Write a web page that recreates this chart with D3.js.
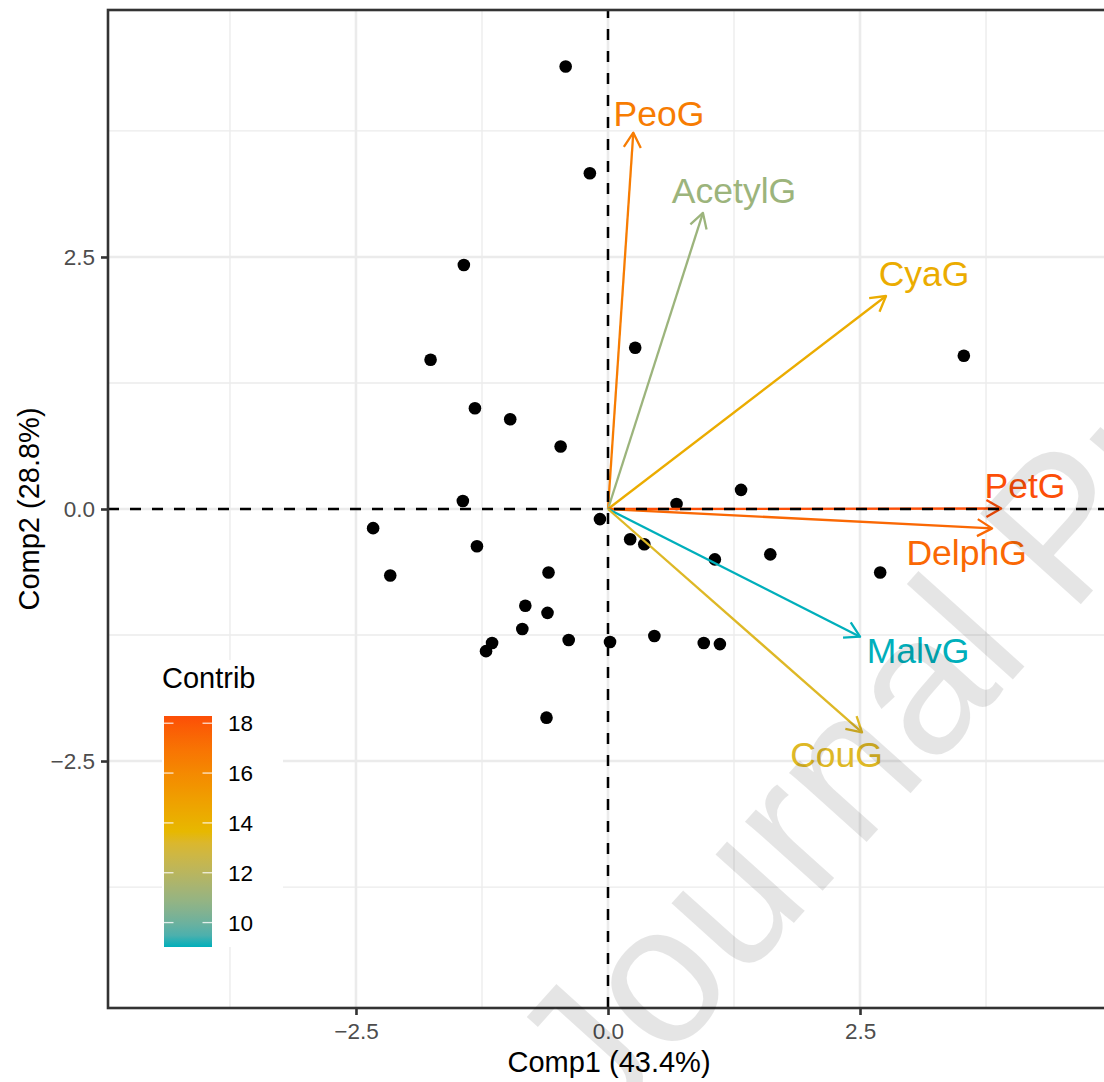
<!DOCTYPE html>
<html><head><meta charset="utf-8">
<script src="https://cdn.jsdelivr.net/npm/d3@7"></script>
<style>body{margin:0;background:#fff}svg{display:block}text{font-family:"Liberation Sans",Arial,Helvetica,sans-serif}</style>
</head><body><svg id="c" width="1104" height="1082"></svg>
<script>
// Individuals (PCA scores)
const indX=[-0.42,-0.18,-1.43,-1.76,0.27,-1.32,-0.97,-0.47,-1.44,-2.33,-2.16,-1.30,-0.08,0.22,0.36,0.68,1.32,1.06,1.61,2.70,3.53,-0.59,-0.82,-0.60,-0.85,-1.15,-1.21,-0.39,0.02,0.46,0.95,1.11,-0.61];
const indY=[4.39,3.33,2.42,1.48,1.60,1.00,0.89,0.62,0.08,-0.19,-0.66,-0.37,-0.10,-0.30,-0.35,0.05,0.19,-0.50,-0.45,-0.63,1.52,-0.63,-0.96,-1.03,-1.19,-1.33,-1.41,-1.30,-1.32,-1.26,-1.33,-1.34,-2.07];
// Variables
const varNames=["PeoG","AcetylG","CyaG","PetG","DelphG","MalvG","CouG"];
const varX=[0.251,0.942,2.758,3.900,3.810,2.500,2.520];
const varY=[3.733,2.937,2.113,0.005,-0.192,-1.267,-2.215];
const varContrib=[16.6,11.1,14.3,18.29,17.4,9.02,13.3];
const labelX=[0.506,1.250,3.135,4.137,3.557,3.075,2.267];
const labelY=[3.929,3.165,2.341,0.233,-0.432,-1.399,-2.431];
const xTicks=[-2.5,0,2.5], yTicks=[-2.5,0,2.5];
const xMinor=[-3.75,-1.25,1.25,3.75], yMinor=[-3.75,-1.25,1.25,3.75];
const legendTicks=[10,12,14,16,18];
const gradCols=["#00AFBB","#E7B800","#FC4E07"];

const svg=d3.select("#c");
const L=108,R=1108,T=10,B=1008;
const x=d3.scaleLinear().domain([-4.96,4.96]).range([L,R]);
const y=d3.scaleLinear().domain([-4.95,4.95]).range([B,T]);
const cMin=d3.min(varContrib), cMax=d3.max(varContrib);
const col=d3.scaleLinear().domain([cMin,(cMin+cMax)/2,cMax]).range(gradCols).interpolate(d3.interpolateLab);

const defs=svg.append("defs");
defs.append("clipPath").attr("id","pc").append("rect").attr("x",L).attr("y",T).attr("width",R-L).attr("height",B-T);
const gp=svg.append("g").attr("clip-path","url(#pc)");
// grid
gp.selectAll(".gxm").data(xMinor).join("line").attr("x1",d=>x(d)).attr("x2",d=>x(d)).attr("y1",T).attr("y2",B).attr("stroke","#ebebeb").attr("stroke-width",1.3);
gp.selectAll(".gym").data(yMinor).join("line").attr("y1",d=>y(d)).attr("y2",d=>y(d)).attr("x1",L).attr("x2",R).attr("stroke","#ebebeb").attr("stroke-width",1.3);
gp.selectAll(".gx").data(xTicks).join("line").attr("x1",d=>x(d)).attr("x2",d=>x(d)).attr("y1",T).attr("y2",B).attr("stroke","#ebebeb").attr("stroke-width",2.6);
gp.selectAll(".gy").data(yTicks).join("line").attr("y1",d=>y(d)).attr("y2",d=>y(d)).attr("x1",L).attr("x2",R).attr("stroke","#ebebeb").attr("stroke-width",2.6);

// points
gp.selectAll("circle").data(indX.map((v,i)=>[v,indY[i]])).join("circle")
  .attr("cx",d=>x(d[0])).attr("cy",d=>y(d[1])).attr("r",6.3).attr("fill","#000");

// arrows
const ox=x(0), oy=y(0), HL=17, HA=Math.PI/6;
varNames.forEach((n,i)=>{
  const tx=x(varX[i]), ty=y(varY[i]), c=col(varContrib[i]);
  const a=Math.atan2(ty-oy,tx-ox);
  gp.append("line").attr("x1",ox).attr("y1",oy).attr("x2",tx).attr("y2",ty).attr("stroke",c).attr("stroke-width",2.3);
  const p1=[tx-HL*Math.cos(a-HA),ty-HL*Math.sin(a-HA)], p2=[tx-HL*Math.cos(a+HA),ty-HL*Math.sin(a+HA)];
  gp.append("path").attr("d",`M${p1[0]},${p1[1]}L${tx},${ty}L${p2[0]},${p2[1]}`).attr("fill","none").attr("stroke",c).attr("stroke-width",2.3).attr("stroke-linejoin","round");
  gp.append("text").attr("x",x(labelX[i])).attr("y",y(labelY[i])).attr("dy","0.358em").attr("text-anchor","middle")
    .attr("font-size",35.5).attr("fill",c).text(n);
});

// reference dashed lines
gp.append("line").attr("x1",L).attr("x2",R).attr("y1",y(0)).attr("y2",y(0)).attr("stroke","#000").attr("stroke-width",2.5).attr("stroke-dasharray","11,11");
gp.append("line").attr("x1",x(0)).attr("x2",x(0)).attr("y1",B).attr("y2",T).attr("stroke","#000").attr("stroke-width",2.5).attr("stroke-dasharray","11,11");

// panel border
svg.append("rect").attr("x",L).attr("y",T).attr("width",R-L).attr("height",B-T).attr("fill","none").attr("stroke","#333").attr("stroke-width",2.6);

// axes
const fmt=d=>d3.format(".1f")(d).replace("-","\u2212");
const xa=svg.append("g").attr("transform",`translate(0,${B})`).call(d3.axisBottom(x).tickValues(xTicks).tickFormat(fmt).tickSize(7).tickPadding(8));
const ya=svg.append("g").attr("transform",`translate(${L},0)`).call(d3.axisLeft(y).tickValues(yTicks).tickFormat(fmt).tickSize(7).tickPadding(6));
[xa,ya].forEach(g=>{g.select(".domain").remove();g.selectAll(".tick line").attr("stroke","#333").attr("stroke-width",2.6);
  g.selectAll(".tick text").attr("fill","#4d4d4d").attr("font-size",22.5).attr("font-family","Liberation Sans, Arial, sans-serif");});

svg.append("text").attr("x",609).attr("y",1072).attr("text-anchor","middle").attr("font-size",29).attr("fill","#000").text("Comp1 (43.4%)");
svg.append("text").attr("transform","translate(39,509) rotate(-90)").attr("text-anchor","middle").attr("font-size",29).attr("fill","#000").text("Comp2 (28.8%)");

// legend
const lg=d3.scaleLinear().domain([cMin,cMax]).range([947,716]);
svg.append("rect").attr("x",162).attr("y",660).attr("width",121).attr("height",287).attr("fill","#fff");
const grad=defs.append("linearGradient").attr("id","lgGrad").attr("x1",0).attr("y1",1).attr("x2",0).attr("y2",0);
d3.range(0,1.0001,0.05).forEach(t=>grad.append("stop").attr("offset",t).attr("stop-color",col(cMin+t*(cMax-cMin))));
svg.append("rect").attr("x",164).attr("y",716).attr("width",48).attr("height",231).attr("fill","url(#lgGrad)");
legendTicks.forEach(v=>{
  svg.append("line").attr("x1",164).attr("x2",173.5).attr("y1",lg(v)).attr("y2",lg(v)).attr("stroke","#fff").attr("stroke-opacity",0.8).attr("stroke-width",1.3);
  svg.append("line").attr("x1",202.5).attr("x2",212).attr("y1",lg(v)).attr("y2",lg(v)).attr("stroke","#fff").attr("stroke-opacity",0.8).attr("stroke-width",1.3);
  svg.append("text").attr("x",228).attr("y",lg(v)).attr("dy","0.358em").attr("font-size",22.5).attr("fill","#000").text(v);
});
svg.append("text").attr("x",162).attr("y",688).attr("font-size",29).attr("fill","#000").text("Contrib");

// watermark
svg.append("text").attr("transform","translate(601,1137) rotate(-48)").attr("font-size",197).attr("fill","#000").attr("fill-opacity",0.1).text("Journal Pre-proof");
</script></body></html>
